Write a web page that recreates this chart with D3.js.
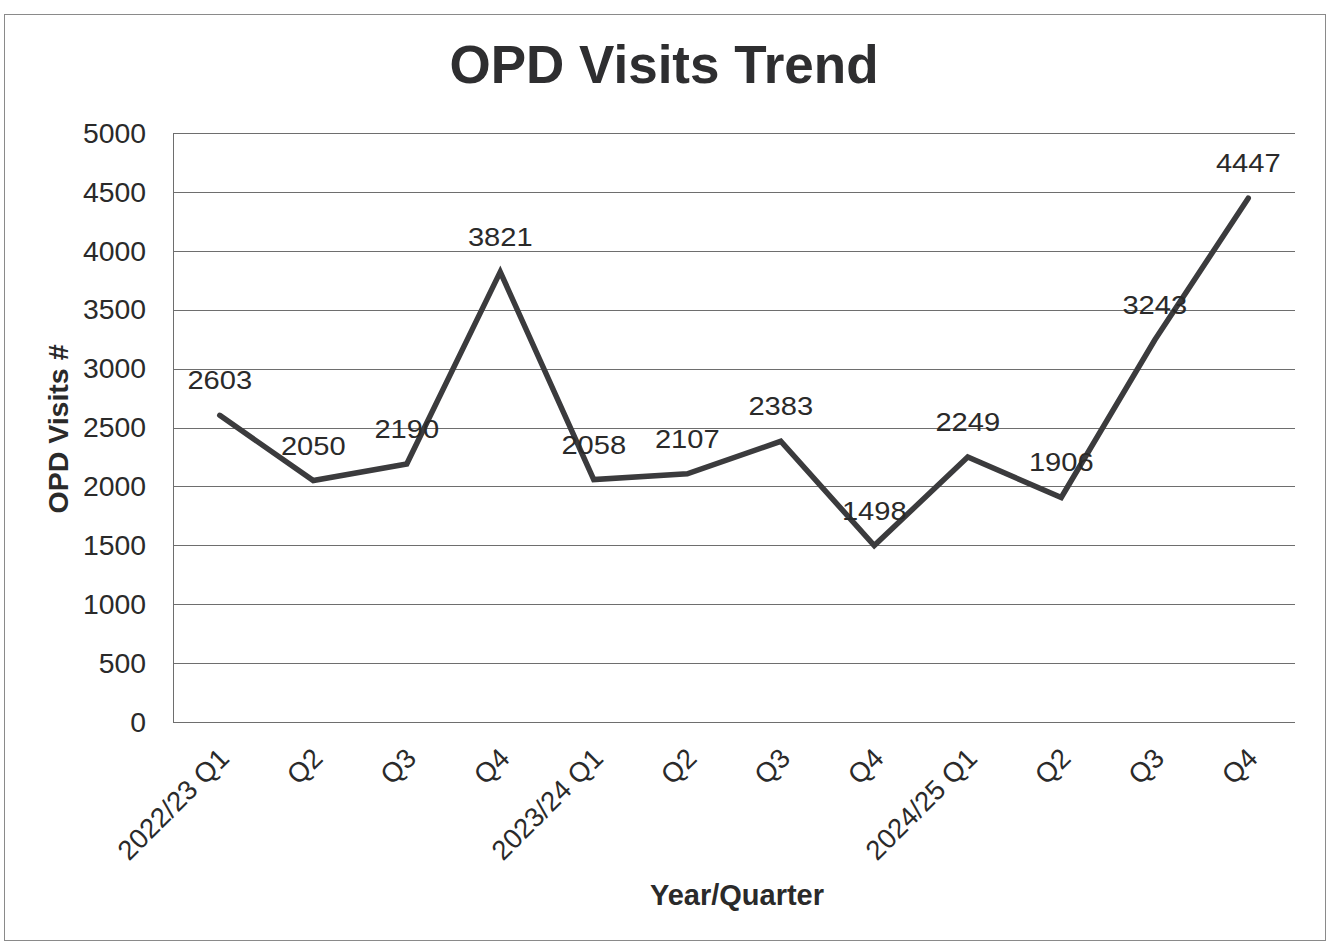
<!DOCTYPE html>
<html>
<head>
<meta charset="utf-8">
<script src="https://cdn.jsdelivr.net/npm/d3@7"></script>
<style>
  html, body { margin: 0; padding: 0; background: #ffffff; }
  svg { display: block; }
  text { font-family: "Liberation Sans", Arial, sans-serif; fill: #2a2a2a; }
</style>
</head>
<body>
<svg id="chart" width="1328" height="946"></svg>
<script>
const titleText = "OPD Visits Trend";
const yAxisTitle = "OPD Visits #";
const xAxisTitle = "Year/Quarter";
const categories = ["2022/23 Q1", "Q2", "Q3", "Q4", "2023/24 Q1", "Q2 ", "Q3 ", "Q4 ", "2024/25 Q1", "Q2  ", "Q3  ", "Q4  "];
const visits = [2603, 2050, 2190, 3821, 2058, 2107, 2383, 1498, 2249, 1906, 3243, 4447];
const yTicks = [0, 500, 1000, 1500, 2000, 2500, 3000, 3500, 4000, 4500, 5000];

const W = 1328, H = 946;
const plot = { left: 173, right: 1295, top: 133, bottom: 722 };

const svg = d3.select("#chart");

// background and outer frame
svg.append("rect").attr("x", 0).attr("y", 0).attr("width", W).attr("height", H).attr("fill", "#ffffff");
svg.append("rect").attr("x", 4.5).attr("y", 14.5).attr("width", 1321).attr("height", 926)
  .attr("fill", "none").attr("stroke", "#8a8a8a").attr("stroke-width", 1);

const x = d3.scaleBand().domain(categories).range([plot.left, plot.right]).padding(0);
const y = d3.scaleLinear().domain([0, 5000]).range([plot.bottom, plot.top]);
const cx = d => x(d) + x.bandwidth() / 2;

// gridlines
svg.append("g").selectAll("line").data(yTicks).join("line")
  .attr("x1", plot.left).attr("x2", plot.right)
  .attr("y1", d => Math.round(y(d)) + 0.5).attr("y2", d => Math.round(y(d)) + 0.5)
  .attr("stroke", "#6e6e6e").attr("stroke-width", 1);

// y axis line
svg.append("line").attr("x1", plot.left + 0.5).attr("x2", plot.left + 0.5)
  .attr("y1", plot.top).attr("y2", plot.bottom + 0.5)
  .attr("stroke", "#6e6e6e").attr("stroke-width", 1);

// y tick labels
svg.append("g").selectAll("text").data(yTicks).join("text")
  .attr("transform", d => `translate(146,${y(d)}) scale(1.05,1)`)
  .attr("text-anchor", "end").attr("dy", "0.36em")
  .style("font-size", "27px")
  .text(d => d);

// x tick labels (rotated)
svg.append("g").selectAll("text").data(categories).join("text")
  .attr("transform", d => `translate(${cx(d) + 11},760) rotate(-45)`)
  .attr("text-anchor", "end")
  .style("font-size", "27.5px")
  .text(d => d.trim());

// line
const line = d3.line().x((d, i) => cx(categories[i])).y(d => y(d));
svg.append("path").datum(visits)
  .attr("d", line)
  .attr("fill", "none").attr("stroke", "#3b3b3d").attr("stroke-width", 5.5)
  .attr("stroke-linejoin", "miter").attr("stroke-linecap", "round");

// data labels
svg.append("g").selectAll("text").data(visits).join("text")
  .attr("transform", (d, i) => `translate(${cx(categories[i])},${y(d) - 26}) scale(1.12,1)`)
  .attr("text-anchor", "middle")
  .style("font-size", "26px")
  .text(d => d);

// title
svg.append("text").attr("x", 664).attr("y", 83).attr("text-anchor", "middle")
  .style("font-size", "53px").style("font-weight", "bold").style("fill", "#2e2e30")
  .text(titleText);

// axis titles
svg.append("text").attr("transform", "translate(68,429) rotate(-90)").attr("text-anchor", "middle")
  .style("font-size", "28.5px").style("font-weight", "bold")
  .text(yAxisTitle);
svg.append("text").attr("x", 737).attr("y", 905).attr("text-anchor", "middle")
  .style("font-size", "29px").style("font-weight", "bold")
  .text(xAxisTitle);
</script>
</body>
</html>
